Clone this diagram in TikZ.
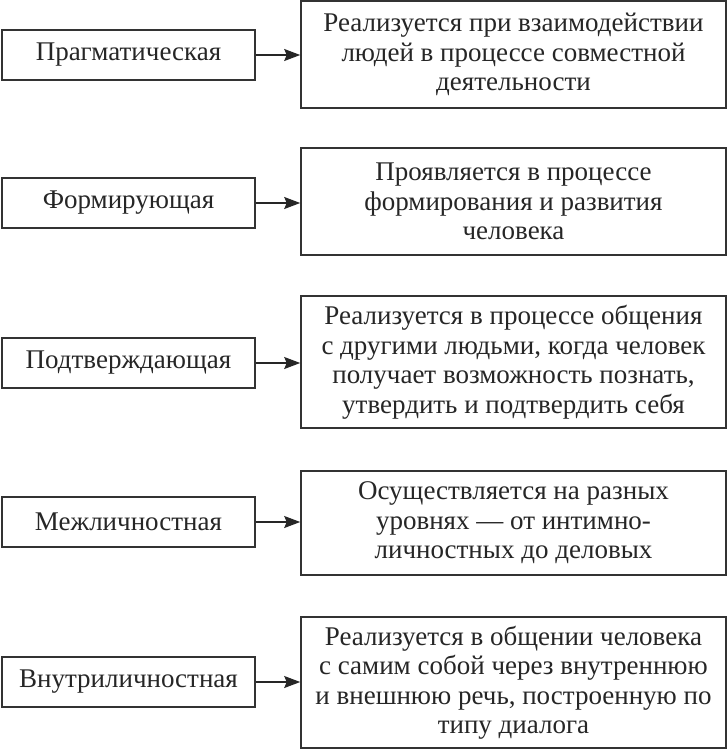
\documentclass[tikz,border=0pt]{standalone}
\usepackage{fontspec}
\setmainfont{Liberation Serif}
\usetikzlibrary{arrows.meta}
\begin{document}
\begin{tikzpicture}[x=1pt,y=-1pt,
  every node/.style={font=\fontsize{27}{29.5}\selectfont, text=black!85, inner sep=0pt},
  leftbox/.style={draw=black!80, line width=1.6pt, minimum width=253pt, minimum height=50pt},
  rightbox/.style={draw=black!80, line width=1.6pt, minimum width=425pt, align=center},
  conn/.style={draw=black!85, line width=1.2pt, -{Stealth[length=16pt,width=12pt,inset=2.5pt]}}]
\useasboundingbox (0,0) rectangle (728,750);
\fill[white] (0,0) rectangle (728,750);
\node[leftbox] (l1) at (128.5,55) {Прагматическая};
\node[leftbox] (l2) at (128.5,203) {Формирующая};
\node[leftbox] (l3) at (128.5,363) {Подтверждающая};
\node[leftbox] (l4) at (128.5,522) {Межличностная};
\node[leftbox] (l5) at (128.5,682) {Внутриличностная};
\node[rightbox, minimum height=107pt] (r1) at (513.5,54.5) {Реализуется при взаимодействии\\людей в процессе совместной\\деятельности};
\node[rightbox, minimum height=107pt] (r2) at (513.5,201.5) {Проявляется в процессе\\формирования и развития\\человека};
\node[rightbox, minimum height=132pt] (r3) at (513.5,362) {Реализуется в процессе общения\\с другими людьми, когда человек\\получает возможность познать,\\утвердить и подтвердить себя};
\node[rightbox, minimum height=104pt] (r4) at (513.5,523) {Осуществляется на разных\\уровнях — от интимно-\\личностных до деловых};
\node[rightbox, minimum height=131pt] (r5) at (513.5,682.5) {Реализуется в общении человека\\с самим собой через внутреннюю\\и внешнюю речь, построенную по\\типу диалога};
\draw[conn] (l1.east) -- (l1.east -| r1.west);
\draw[conn] (l2.east) -- (l2.east -| r2.west);
\draw[conn] (l3.east) -- (l3.east -| r3.west);
\draw[conn] (l4.east) -- (l4.east -| r4.west);
\draw[conn] (l5.east) -- (l5.east -| r5.west);
\end{tikzpicture}
\end{document}
